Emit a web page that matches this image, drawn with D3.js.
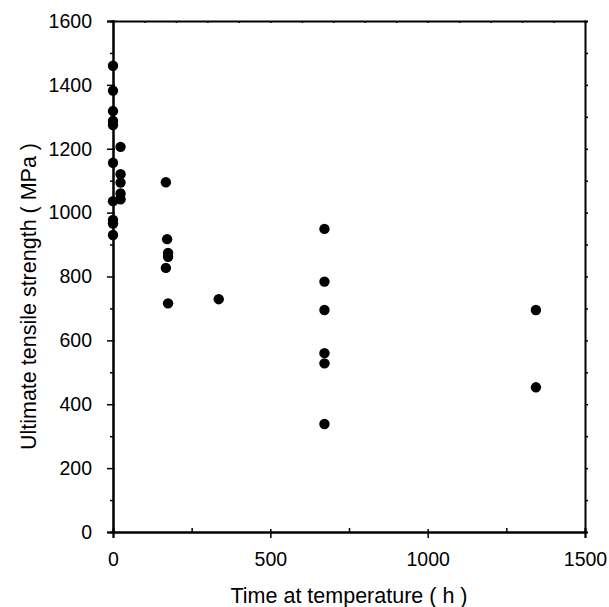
<!DOCTYPE html>
<html>
<head>
<meta charset="utf-8">
<script src="https://cdn.jsdelivr.net/npm/d3@7"></script>
<style>
  body { margin: 0; background: #fff; }
  text { font-family: "Liberation Sans", Arial, sans-serif; fill: #000; }
</style>
</head>
<body>
<div id="chart"></div>
<script>
// time at temperature (h) and UTS (MPa)
var hours = [0, 0, 0, 0, 0, 0, 0, 0, 0, 0,
             24, 24, 24, 24, 24,
             168, 172, 175, 175, 168, 175,
             336,
             672, 672, 672, 672, 672, 672,
             1344, 1344];
var strength = [1460, 1382, 1318, 1287, 1274, 1156, 1036, 977, 966, 930,
                1206, 1120, 1094, 1060, 1042,
                1095, 917, 874, 862, 827, 716,
                729,
                949, 784, 695, 560, 528, 338,
                695, 453];
var xTicks = [0, 500, 1000, 1500];
var yTicks = [0, 200, 400, 600, 800, 1000, 1200, 1400, 1600];

var margin = {top: 21, right: 24, bottom: 75, left: 113},
    width = 609 - margin.left - margin.right,
    height = 607 - margin.top - margin.bottom;

var svg = d3.select("#chart")
    .append("svg")
    .attr("width", 609)
    .attr("height", 607)
    .append("g")
    .attr("transform", "translate(" + margin.left + "," + margin.top + ")");

var x = d3.scaleLinear().domain([0, 1500]).range([0, width]);
var y = d3.scaleLinear().domain([0, 1600]).range([height, 0]);

// minor ticks first, then major axes on top
svg.append("g")
    .attr("transform", "translate(0," + height + ")")
    .call(d3.axisBottom(x).tickValues([250, 750, 1250]).tickSize(-4).tickFormat(""));
svg.append("g")
    .call(d3.axisLeft(y).tickValues(d3.range(100, 1600, 200)).tickSize(3).tickFormat(""));
svg.append("g")
    .attr("transform", "translate(" + width + ",0)")
    .call(d3.axisRight(y).tickValues(d3.range(100, 1600, 100)).tickSize(3).tickFormat(""));
svg.append("g")
    .call(d3.axisTop(x).tickValues(d3.range(100, 1500, 100)).tickSize(-2).tickFormat(""));

var xAxis = svg.append("g")
    .attr("transform", "translate(0," + height + ")")
    .call(d3.axisBottom(x).tickValues(xTicks).tickSize(6).tickPadding(14).tickFormat(d3.format("d")));
var yAxis = svg.append("g")
    .call(d3.axisLeft(y).tickValues(yTicks).tickSize(6).tickPadding(15).tickFormat(d3.format("d")));

svg.selectAll(".domain").attr("stroke", "#000").attr("stroke-width", 2);
svg.selectAll(".tick line").attr("stroke", "#000").attr("stroke-width", 1.5);
svg.selectAll(".tick text").style("font-size", "19.5px").attr("fill", "#000");

// extend major x ticks a bit above the axis line
xAxis.selectAll(".tick line").attr("y1", -3);
yAxis.selectAll(".tick line").attr("x1", 2);

svg.append("g")
    .selectAll("circle")
    .data(hours)
    .enter()
    .append("circle")
    .attr("cx", function (d) { return x(d); })
    .attr("cy", function (d, i) { return y(strength[i]); })
    .attr("r", 5.2)
    .style("fill", "#000");

svg.append("text")
    .attr("x", width / 2)
    .attr("y", height + 71)
    .style("text-anchor", "middle")
    .style("font-size", "21.5px")
    .text("Time at temperature ( h )");

svg.append("text")
    .attr("transform", "rotate(-90)")
    .attr("x", -(height / 2) - 20)
    .attr("y", -77)
    .style("text-anchor", "middle")
    .style("font-size", "21.5px")
    .text("Ultimate tensile strength ( MPa )");
</script>
</body>
</html>
